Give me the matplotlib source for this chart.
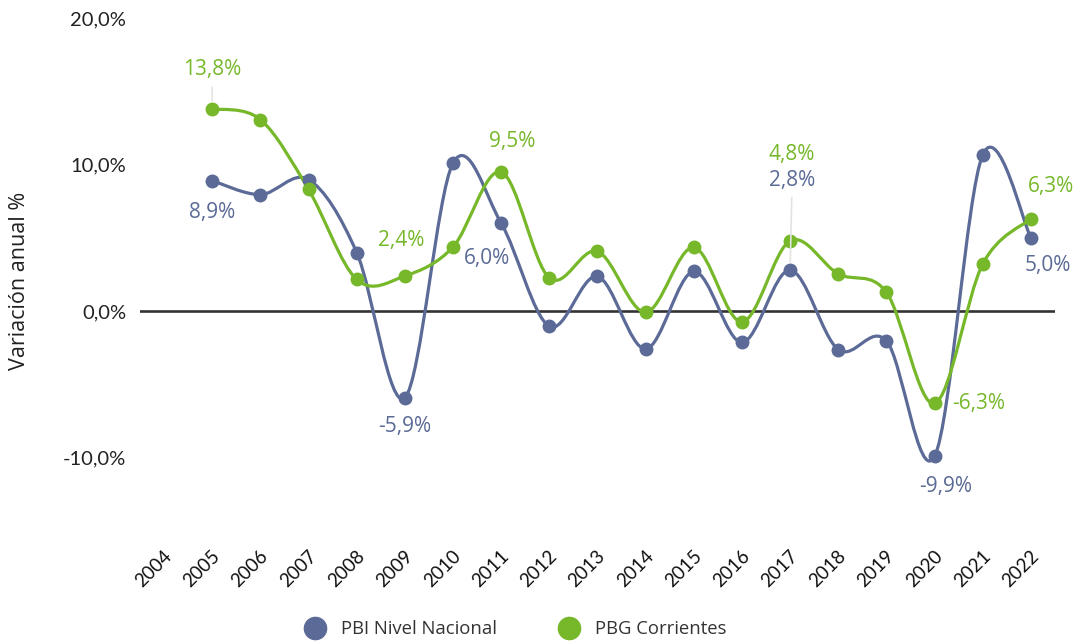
import matplotlib
matplotlib.use("Agg")
import matplotlib.pyplot as plt
import matplotlib.transforms as mtransforms
from matplotlib.path import Path
from matplotlib.patches import PathPatch
from matplotlib.lines import Line2D
import numpy as np

# data
years = [str(y) for y in range(2004, 2023)]
pbi_nacional = [np.nan, 8.9, 7.95, 8.98, 4.0, -5.9, 10.1, 6.0, -1.04, 2.37, -2.58,
                2.71, -2.13, 2.8, -2.62, -2.03, -9.9, 10.67, 5.0]
pbg_corrientes = [np.nan, 13.8, 13.07, 8.3, 2.16, 2.4, 4.38, 9.5, 2.26, 4.08, -0.08,
                  4.35, -0.74, 4.8, 2.54, 1.28, -6.3, 3.22, 6.3]
series_names = ["PBI Nivel Nacional", "PBG Corrientes"]
yticks = [-10, 0, 10, 20]

BLUE = "#5b6a96"
GREEN = "#76b82a"
LABEL_FONT = "Open Sans"
TICK_FONT = "Lato"

# (year index, dx px, dy px, connector) for labelled points
blue_labels = [(1, 0, -32, False), (5, 0, -29, False), (7, -14, -35, False),
               (13, 2, 90, True), (16, 11, -30, False), (18, 17, -28, False)]
green_labels = [(1, 0, 39, True), (5, -4, 35, False), (7, 11, 30, False),
                (13, 2, 86, False), (16, 44, 0, False), (18, 20, 32, False)]


def fmt(v):
    return f"{v:.1f}%".replace(".", ",")


def spline_path(x, y):
    """Catmull-Rom curve through the points as cubic bezier segments."""
    x = np.asarray(x, float)
    y = np.asarray(y, float)
    n = len(x)
    verts = [(x[0], y[0])]
    codes = [Path.MOVETO]
    for i in range(n - 1):
        p0 = i - 1 if i > 0 else i
        p3 = i + 2 if i + 2 < n else i + 1
        c1 = (x[i] + (x[i + 1] - x[p0]) / 6, y[i] + (y[i + 1] - y[p0]) / 6)
        c2 = (x[i + 1] - (x[p3] - x[i]) / 6, y[i + 1] - (y[p3] - y[i]) / 6)
        verts += [c1, c2, (x[i + 1], y[i + 1])]
        codes += [Path.CURVE4] * 3
    return Path(verts, codes)


fig = plt.figure(figsize=(10.79, 6.44), dpi=100)
ax = fig.add_axes([140 / 1079, 1 - 531 / 644, 915 / 1079, 513 / 644])

xs = np.arange(len(years))
ax.axhline(0, color="#333333", lw=1.9, zorder=1)

for vals, color, labels in [(pbi_nacional, BLUE, blue_labels),
                            (pbg_corrientes, GREEN, green_labels)]:
    v = np.array(vals, float)
    m = ~np.isnan(v)
    ax.add_patch(PathPatch(spline_path(xs[m], v[m]), fill=False, edgecolor=color,
                           lw=2.3, zorder=2, capstyle="round"))
    ax.plot(xs[m], v[m], "o", color=color, ms=9, zorder=3)
    for i, dx, dy, conn in labels:
        kw = {}
        if conn:
            kw["arrowprops"] = dict(arrowstyle="-", color="#e3e3e3", lw=1.2,
                                    shrinkA=3, shrinkB=6)
        ax.annotate(fmt(v[i]), (xs[i], v[i]), xytext=(dx, dy),
                    textcoords="offset pixels", ha="center", va="center",
                    color=color, fontsize=15, family=LABEL_FONT, zorder=4, **kw)

ax.set_xlim(-0.5, len(years) - 0.5)
ax.set_ylim(-15, 20)
ax.set_yticks(yticks)
ax.set_yticklabels([fmt(t) for t in yticks], family=TICK_FONT, fontsize=14.5,
                   color="#222222")
ax.set_xticks(xs)
ax.set_xticklabels(years, rotation=45, ha="right", va="center",
                   rotation_mode="anchor", family=TICK_FONT, fontsize=13.5,
                   color="#111111")
ax.tick_params(axis="y", length=0, pad=10)
ax.tick_params(axis="x", length=0, pad=16)
shift = mtransforms.ScaledTranslation(5 / 100, 0, fig.dpi_scale_trans)
for lab in ax.get_xticklabels():
    lab.set_transform(lab.get_transform() + shift)

for s in ax.spines.values():
    s.set_visible(False)

ax.set_ylabel("Variación anual %", family=LABEL_FONT, fontsize=15.5, color="#222222",
              va="center")
ax.yaxis.set_label_coords((20 - 140) / 915, 0.487)

handles = [Line2D([], [], marker="o", ls="none", color=c, ms=16)
           for c in (BLUE, GREEN)]
fig.legend(handles, series_names, loc="center", bbox_to_anchor=(0.474, 1 - 629 / 644),
           ncol=2, frameon=False, columnspacing=2.9, handletextpad=0.4,
           prop={"family": LABEL_FONT, "size": 13.3}, labelcolor="#333333")

fig.savefig("out.png", dpi=100)
